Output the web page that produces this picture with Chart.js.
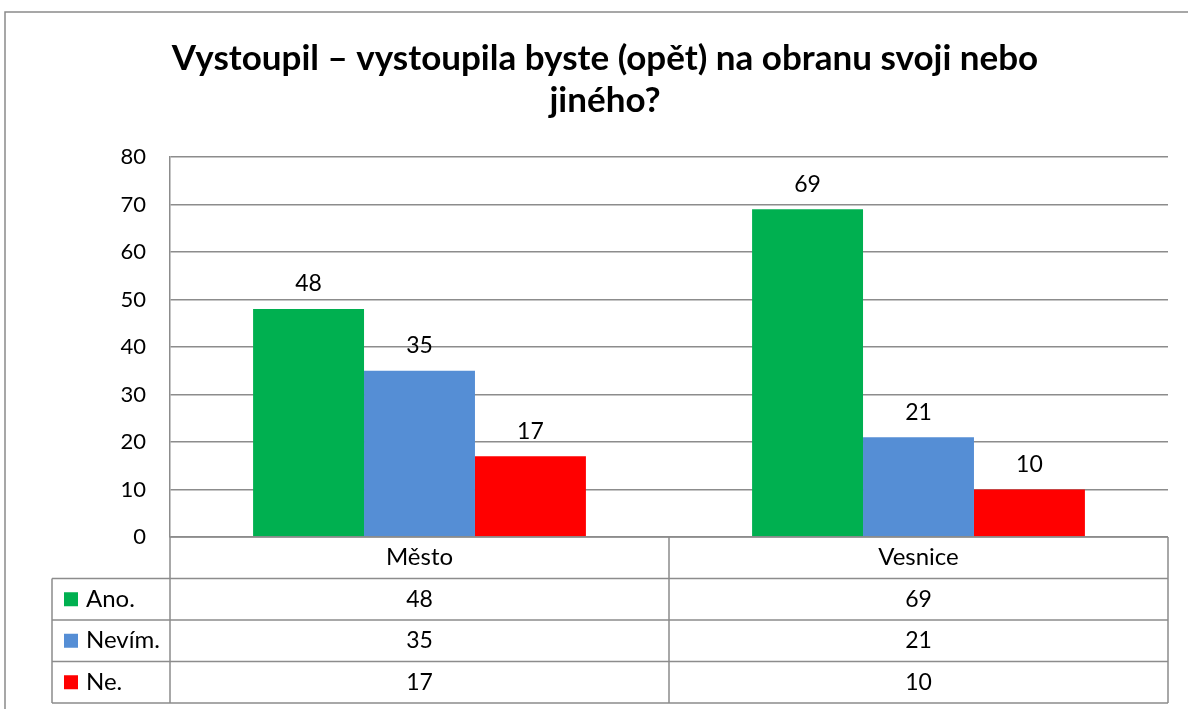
<!DOCTYPE html>
<html>
<head>
<meta charset="utf-8">
<script src="https://cdn.jsdelivr.net/npm/chart.js@4"></script>
<style>
    html, body { margin: 0; padding: 0; background: #fff; }
    #wrap { width: 1188px; height: 709px; }
</style>
</head>
<body>
<div id="wrap"><canvas id="chart" width="1188" height="709"></canvas></div>
<script>
const categories = ["Město", "Vesnice"];
const seriesNames = ["Ano.", "Nevím.", "Ne."];
const ano = [48, 69];
const nevim = [35, 21];
const ne = [17, 10];
const titleLines = ["Vystoupil – vystoupila byste (opět) na obranu svoji nebo", "jiného?"];
const colors = ["#00b050", "#558ed5", "#ff0000"];

const FONT = "Lato, 'Open Sans', sans-serif";
const GRID = "#8c8c8c";
const tableLeft = 52;
const rowH = 41.5;

// outer frame + title
const framePlugin = {
    id: "frame",
    beforeDraw: (chart)=> {
        const c = chart.ctx;
        c.save();
        c.strokeStyle = "#8a8a8a";
        c.lineWidth = 1.5;
        c.beginPath();
        c.moveTo(5, 709);
        c.lineTo(5, 12);
        c.lineTo(1188, 12);
        c.stroke();

        c.fillStyle = "#000";
        c.font = "bold 35px " + FONT;
        c.textAlign = "center";
        c.textBaseline = "middle";
        c.fillText(titleLines[0], 605, 59);
        c.fillText(titleLines[1], 605, 101);
        c.restore();
    }
};

// values above bars
const labelsPlugin = {
    id: "barLabels",
    afterDatasetsDraw: (chart)=> {
        const c = chart.ctx;
        c.save();
        c.fillStyle = "#000";
        c.font = "23px " + FONT;
        c.textAlign = "center";
        c.textBaseline = "middle";
        chart.data.datasets.forEach((ds, i)=> {
            chart.getDatasetMeta(i).data.forEach((bar, j)=> {
                c.fillText(ds.data[j], bar.x, bar.y - 25);
            });
        });
        c.restore();
    }
};

// data table under the plot
const tablePlugin = {
    id: "dataTable",
    afterDraw: (chart)=> {
        const c = chart.ctx;
        const area = chart.chartArea;
        const xs = chart.scales.x;
        const catW = (area.right - area.left) / categories.length;
        const top = area.bottom;
        const bottom = top + rowH * (seriesNames.length + 1);

        c.save();
        c.strokeStyle = GRID;
        c.lineWidth = 1.5;
        c.beginPath();
        // horizontal lines
        c.moveTo(area.left, top);
        c.lineTo(area.right, top);
        for(let r = 1; r <= seriesNames.length + 1; r++) {
            c.moveTo(tableLeft, top + rowH * r);
            c.lineTo(area.right, top + rowH * r);
        }
        // vertical lines
        c.moveTo(tableLeft, top + rowH);
        c.lineTo(tableLeft, bottom);
        c.moveTo(area.left, top);
        c.lineTo(area.left, bottom);
        categories.forEach((cat, i)=> {
            const x = xs.getPixelForValue(i) + catW / 2;
            c.moveTo(x, top);
            c.lineTo(x, bottom);
        });
        c.stroke();

        c.fillStyle = "#000";
        c.textBaseline = "middle";
        c.textAlign = "center";
        c.font = "24px " + FONT;
        categories.forEach((cat, i)=> {
            c.fillText(cat, xs.getPixelForValue(i), top + rowH / 2);
        });

        chart.data.datasets.forEach((ds, r)=> {
            const cy = top + rowH * (r + 1) + rowH / 2;
            c.fillStyle = ds.backgroundColor;
            c.fillRect(64, cy - 7, 14, 14);
            c.fillStyle = "#000";
            c.textAlign = "left";
            c.font = "24px " + FONT;
            c.fillText(ds.label, 86, cy);
            c.textAlign = "center";
            c.font = "23px " + FONT;
            ds.data.forEach((v, i)=> {
                c.fillText(v, xs.getPixelForValue(i), cy);
            });
        });
        c.restore();
    }
};

const ctx = document.getElementById("chart");
const chart = new Chart(ctx, {
    type: "bar",
    data: {
        labels: categories,
        datasets: [
            { label: seriesNames[0], data: ano, backgroundColor: colors[0] },
            { label: seriesNames[1], data: nevim, backgroundColor: colors[1] },
            { label: seriesNames[2], data: ne, backgroundColor: colors[2] }
        ]
    },
    options: {
        responsive: false,
        animation: false,
        layout: { padding: { top: 157, right: 20, bottom: 172, left: 0 } },
        datasets: { bar: { categoryPercentage: 0.667, barPercentage: 1 } },
        plugins: {
            legend: { display: false },
            tooltip: { enabled: false },
            title: { display: false }
        },
        scales: {
            x: { display: false },
            y: {
                min: 0,
                max: 80,
                ticks: { stepSize: 10, color: "#000", font: { family: FONT, size: 22 }, padding: 24 },
                grid: { color: GRID, lineWidth: 1.5, drawTicks: false },
                border: { color: GRID, width: 1.5 },
                afterFit: (scale)=> { scale.width = 170; }
            }
        }
    },
    plugins: [framePlugin, labelsPlugin, tablePlugin]
});
</script>
</body>
</html>
